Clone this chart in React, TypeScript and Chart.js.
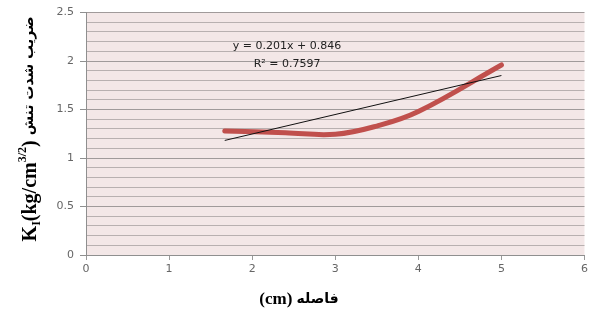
import React, { useEffect, useRef } from "react";
import { Chart, registerables } from "chart.js";

Chart.register(...registerables);

const distanceCm = [1.67, 2.4, 3, 3.5, 4, 5];
const kValues = [1.28, 1.26, 1.245, 1.33, 1.48, 1.96];
const trendSlope = 0.201;
const trendIntercept = 0.846;
const trendX = [1.67, 5];
const xTicks = [0, 1, 2, 3, 4, 5, 6];
const equationText = "y = 0.201x + 0.846";
const r2Text = "R² = 0.7597";
const yTitleLatin = "K";
const yTitleSub = "I";
const yTitleMid = "(kg/cm";
const yTitleSup = "3/2";
const yTitleEnd = ")";
const yTitleFa = "ضریب شدت تنش";
const xTitleLatin = "(cm)";
const xTitleFa = "فاصله";

const isMajor = (v: number) => Math.abs(v * 2 - Math.round(v * 2)) < 1e-6;

const bgPlugin = {
  id: "bgPlugin",
  beforeDraw(chart: any) {
    const { ctx, chartArea } = chart;
    ctx.save();
    ctx.fillStyle = "#f3e7e7";
    ctx.fillRect(chartArea.left, chartArea.top, chartArea.right - chartArea.left, chartArea.bottom - chartArea.top);
    ctx.restore();
  },
  afterDraw(chart: any) {
    const { ctx, scales } = chart;
    const xs = scales.x;
    const ys = scales.y;
    ctx.save();
    ctx.fillStyle = "#222";
    ctx.font = "11px 'DejaVu Sans', sans-serif";
    ctx.textAlign = "center";
    ctx.textBaseline = "middle";
    ctx.fillText(equationText, xs.getPixelForValue(2.42), ys.getPixelForValue(2.15));
    ctx.fillText(r2Text, xs.getPixelForValue(2.42), ys.getPixelForValue(1.97));

    // Y title rotated
    ctx.save();
    ctx.translate(29, 129);
    ctx.rotate(-Math.PI / 2);
    ctx.textAlign = "left";
    ctx.textBaseline = "alphabetic";
    const big = "bold 20px 'Liberation Serif', serif";
    const small = "bold 12px 'Liberation Serif', serif";
    const fa = "bold 14px 'DejaVu Sans', sans-serif";
    const parts: any[] = [
      [yTitleLatin, big, 0],
      [yTitleSub, small, 4],
      [yTitleMid, big, 0],
      [yTitleSup, small, -10],
      [yTitleEnd, big, 0],
      [" ", big, 0],
      [yTitleFa, fa, -3],
    ];
    let total = 0;
    for (const p of parts) {
      ctx.font = p[1];
      total += ctx.measureText(p[0]).width;
    }
    let xPos = -total / 2;
    for (const p of parts) {
      ctx.font = p[1];
      ctx.fillStyle = "#000";
      ctx.fillText(p[0], xPos, 7 + p[2]);
      xPos += ctx.measureText(p[0]).width;
    }
    ctx.restore();

    // X title
    ctx.textBaseline = "middle";
    ctx.textAlign = "left";
    const f1 = "bold 17px 'Liberation Serif', serif";
    const f2 = "bold 14px 'DejaVu Sans', sans-serif";
    ctx.font = f1;
    const w1 = ctx.measureText(xTitleLatin + " ").width;
    ctx.font = f2;
    const w2 = ctx.measureText(xTitleFa).width;
    const sx = 299 - (w1 + w2) / 2;
    ctx.fillStyle = "#000";
    ctx.font = f1;
    ctx.fillText(xTitleLatin, sx, 300);
    ctx.font = f2;
    ctx.fillText(xTitleFa, sx + w1, 299);
    ctx.restore();
  },
};

export default function App() {
  const ref = useRef<HTMLCanvasElement>(null);
  useEffect(() => {
    if (!ref.current) return;
    const chart = new Chart(ref.current, {
      type: "scatter",
      data: {
        datasets: [
          {
            label: "trend",
            data: trendX.map((x) => ({ x, y: trendSlope * x + trendIntercept })),
            showLine: true,
            borderColor: "#111",
            borderWidth: 1,
            pointRadius: 0,
            tension: 0,
          },
          {
            label: "K",
            data: distanceCm.map((x, i) => ({ x, y: kValues[i] })),
            showLine: true,
            borderColor: "#c0504d",
            borderWidth: 5,
            pointRadius: 0,
            tension: 0.4,
            borderCapStyle: "round",
          },
        ],
      },
      options: {
        responsive: false,
        animation: false,
        layout: { padding: { top: 10, right: 6, left: 0, bottom: 0 } },
        plugins: { legend: { display: false }, tooltip: { enabled: false } },
        scales: {
          x: {
            type: "linear",
            min: 0,
            max: 6,
            afterBuildTicks: (s: any) => {
              s.ticks = xTicks.map((v) => ({ value: v }));
            },
            afterFit: (s: any) => {
              s.height = 61;
            },
            grid: {
              drawOnChartArea: false,
              drawTicks: true,
              tickLength: 5,
              color: "#9a9a9a",
            },
            border: { color: "#8f8f8f", width: 1 },
            ticks: {
              color: "#666",
              font: { size: 11, family: "'DejaVu Sans', sans-serif" },
              padding: 3,
              maxRotation: 0,
            },
          },
          y: {
            type: "linear",
            min: 0,
            max: 2.5,
            afterBuildTicks: (s: any) => {
              const t = [];
              for (let i = 0; i <= 25; i++) t.push({ value: i / 10 });
              s.ticks = t;
            },
            afterFit: (s: any) => {
              s.width = 86;
            },
            grid: {
              drawTicks: true,
              tickLength: 6,
              color: (c: any) => (c.tick && isMajor(c.tick.value) ? "#a09a9a" : "#b8b0b0"),
              tickColor: (c: any) => (c.tick && isMajor(c.tick.value) ? "#8f8f8f" : "rgba(0,0,0,0)"),
              lineWidth: 1,
            },
            border: { color: "#8f8f8f", width: 1 },
            ticks: {
              color: "#666",
              font: { size: 11, family: "'DejaVu Sans', sans-serif" },
              padding: 6,
              autoSkip: false,
              callback: (v: any) => (isMajor(Number(v)) ? String(Math.round(Number(v) * 10) / 10) : ""),
            },
          },
        },
      },
      plugins: [bgPlugin],
    } as any);
    return () => chart.destroy();
  }, []);
  return (
    <div style={{ position: "fixed", left: 0, top: 0, width: 591, height: 316, background: "#fff" }}>
      <canvas ref={ref} width={591} height={316} style={{ width: 591, height: 316 }} />
    </div>
  );
}
